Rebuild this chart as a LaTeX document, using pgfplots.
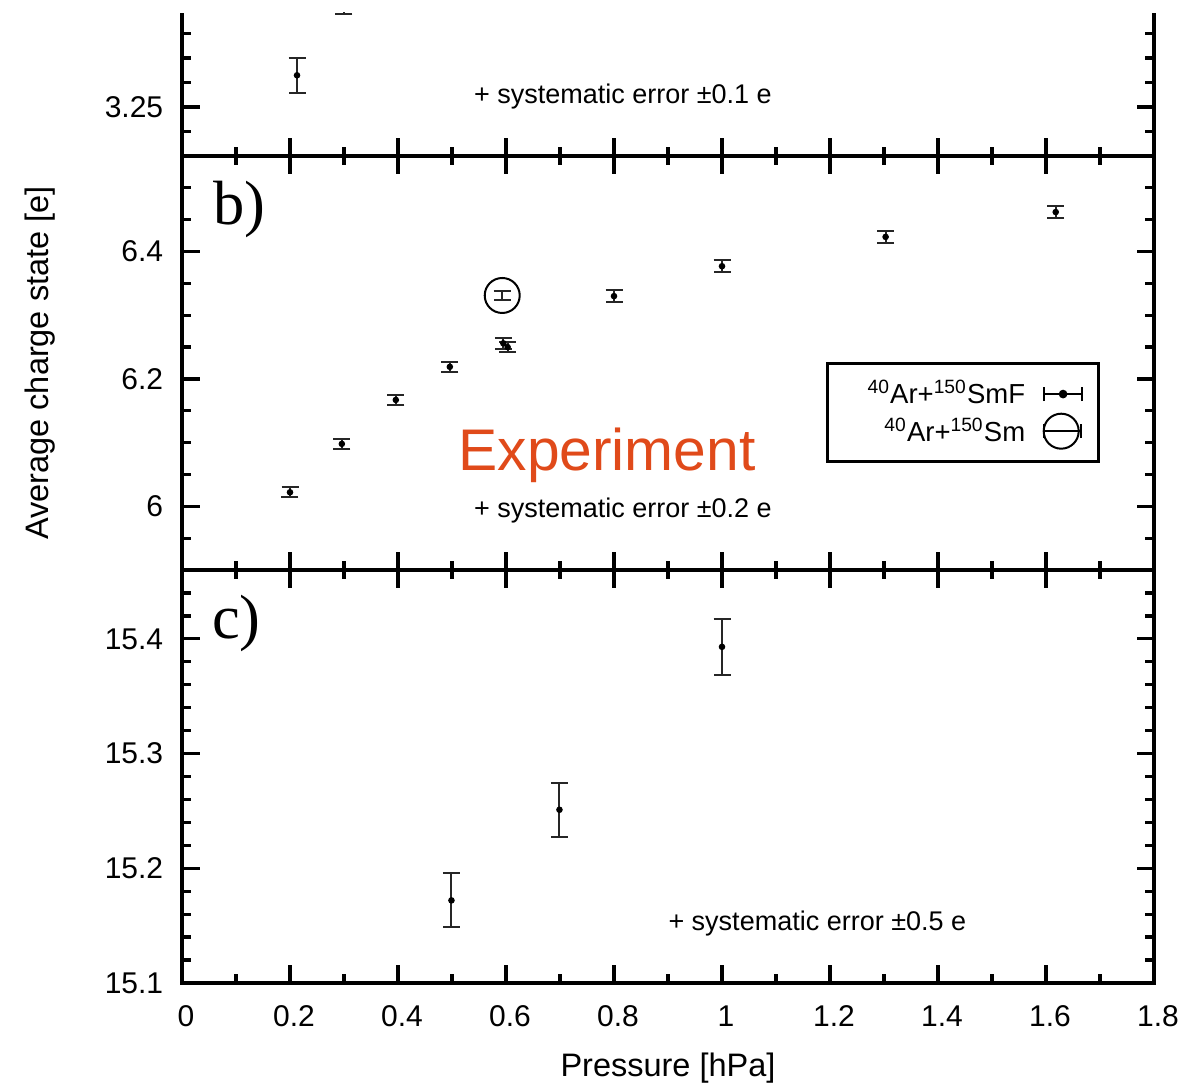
\documentclass[border=0pt]{standalone}
\usepackage{fontspec}
\setmainfont{Liberation Sans}
\newfontfamily\seriffont{Liberation Serif}
\usepackage{pgfplots}
\usepackage{pgfplotstable}
\pgfplotsset{compat=1.18}
\definecolor{exporange}{RGB}{224,74,26}

% 40Ar + 150SmF, panel b)
\pgfplotstableread{
x      y      err
0.200  6.022  0.0080
0.296  6.098  0.0082
0.396  6.167  0.0084
0.496  6.219  0.0079
0.595  6.256  0.0090
0.603  6.250  0.0080
0.800  6.330  0.0089
1.000  6.377  0.0097
1.303  6.423  0.0097
1.618  6.462  0.0097
}\smf

\pgfplotsset{
  panel/.style={
    scale only axis, width=388.8pt,
    xmin=0, xmax=1.8,
    xtick={0,0.2,0.4,0.6,0.8,1,1.2,1.4,1.6,1.8},
    minor x tick num=1,
    axis line style={line width=1.4pt},
    every outer x axis line/.append style={line width=1.4pt},
    every outer y axis line/.append style={line width=1.4pt},
    tick style={black, line width=1.3pt},
    major tick length=7pt, minor tick length=3.5pt,
    tick align=inside,
    /pgf/number format/assume math mode=true,
    ticklabel style={font=\fontsize{12}{13}\selectfont},
    yticklabel style={xshift=-4pt},
    xticklabel style={yshift=-5.5pt, xshift=1.6pt},
    label style={font=\fontsize{13}{15}\selectfont},
  },
  pts/.style={only marks, mark=*, mark size=1.1pt, black},
  ebar/.style={error bars/.cd, y dir=both, y explicit,
    error bar style={line width=0.8pt, black!85},
    error mark options={rotate=90, mark size=3.4pt, line width=0.8pt, black!85}},
}
\tikzset{txt/.style={anchor=base west, inner sep=0pt, font=\fontsize{10.8}{12}\selectfont}}

\begin{document}
\begin{tikzpicture}
\useasboundingbox (-72.8pt,-40.4pt) rectangle (401.2pt,393.2pt);

% panel a) (cut off at the top)
\begin{axis}[panel, at={(0pt,330.8pt)}, anchor=south west, height=57.2pt,
  axis x line*=bottom, axis y line*=box,
  ymin=3.23, ymax=3.2883,
  ytick={3.20,3.25,3.30}, minor y tick num=4,
  xticklabels={}]
\addplot[pts, ebar] coordinates {(0.213,3.2629) +- (0,0.0071)};
\addplot[draw=none, ebar] coordinates {(0.300,3.2955) +- (0,0.0075)};
\node[txt] at (axis cs:0.54,3.2512) {+ systematic error ±0.1 e};
\end{axis}

% panel b)
\begin{axis}[panel, at={(0pt,165.2pt)}, anchor=south west, height=165.6pt,
  ymin=5.9, ymax=6.55,
  ytick={5.8,6,6.2,6.4,6.6}, minor y tick num=3,
  xticklabels={},
  ylabel={Average charge state [e]},
  ylabel style={at={(axis description cs:-0.146,0.5)}, anchor=center},
  legend style={at={(axis description cs:0.9444,0.5024)}, anchor=north east,
    draw=black, line width=1.2pt, font=\fontsize{11}{13}\selectfont,
    inner xsep=6pt, inner ysep=4.8pt, row sep=0pt, column sep=5pt},
  legend cell align=right,
  legend plot pos=right]
\addlegendimage{legend image code/.code={
  \draw[line width=0.8pt] (0pt,0pt) -- (15.5pt,0pt);
  \draw[line width=0.8pt] (0pt,-2.8pt) -- (0pt,2.8pt) (15.5pt,-2.8pt) -- (15.5pt,2.8pt);
  \fill (7.75pt,0pt) circle (1.1pt);}}
\addlegendentry{\hspace*{8pt}\textsuperscript{40}Ar+\textsuperscript{150}SmF}
\addlegendimage{legend image code/.code={
  \draw[line width=0.8pt] (7pt,0pt) circle (7pt);
  \draw[line width=0.8pt] (0pt,0pt) -- (14.8pt,0pt);
  \draw[line width=0.8pt] (0pt,-2.8pt) -- (0pt,2.8pt) (14.8pt,-2.8pt) -- (14.8pt,2.8pt);}}
\addlegendentry{\textsuperscript{40}Ar+\textsuperscript{150}Sm}
\addplot[pts, forget plot, ebar] table[x=x, y=y, y error=err] {\smf};
% 40Ar + 150Sm
\addplot[only marks, mark=o, mark size=7pt, mark options={line width=0.8pt}, black, forget plot, ebar]
  coordinates {(0.593,6.331) +- (0,0.0071)};
\node[anchor=base west, inner sep=0pt, font=\seriffont\fontsize{25}{28}\selectfont] at (axis cs:0.057,6.4425) {b)};
\node[anchor=base west, inner sep=0pt, text=exporange, font=\fontsize{23.5}{26}\selectfont] at (axis cs:0.511,6.0567) {Experiment};
\node[txt] at (axis cs:0.54,5.9827) {+ systematic error ±0.2 e};
\end{axis}

% panel c)
\begin{axis}[panel, at={(0pt,0pt)}, anchor=south west, height=165.2pt,
  ymin=15.1, ymax=15.46,
  ytick={15.1,15.2,15.3,15.4,15.5}, minor y tick num=4,
  xticklabels={0,0.2,0.4,0.6,0.8,1,1.2,1.4,1.6,1.8},
  xlabel={Pressure [hPa]},
  xlabel style={at={(axis description cs:0.5,0)}, yshift=-34pt, anchor=center}]
\addplot[pts, ebar] coordinates {
  (0.499,15.172) +- (0,0.0235)
  (0.699,15.251) +- (0,0.0237)
  (1.000,15.393) +- (0,0.0242)
};
\node[anchor=base west, inner sep=0pt, font=\seriffont\fontsize{25}{28}\selectfont] at (axis cs:0.055,15.4) {c)};
\node[txt] at (axis cs:0.9,15.146) {+ systematic error ±0.5 e};
\end{axis}
\end{tikzpicture}
\end{document}
